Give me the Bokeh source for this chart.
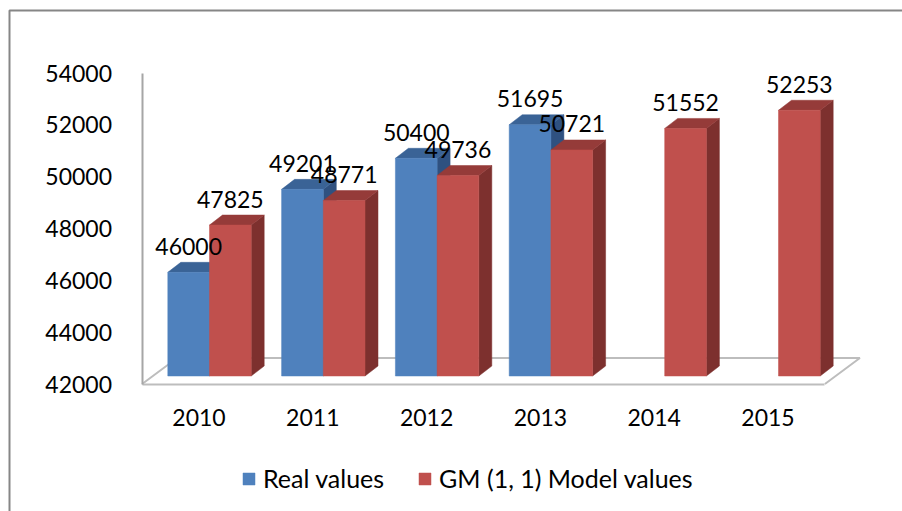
from bokeh.plotting import figure
from bokeh.embed import file_html
from bokeh.resources import INLINE
from bokeh.core.properties import value
from bokeh.models import (ColumnDataSource, FixedTicker, LinearAxis, Range1d, Legend, LegendItem)

# ---- chart data ----
years = ["2010", "2011", "2012", "2013", "2014", "2015"]
real_values = [46000, 49201, 50400, 51695, None, None]
model_values = [47825, 48771, 49736, 50721, 51552, 52253]
y_ticks = [42000, 44000, 46000, 48000, 50000, 52000, 54000]

BLUE = ("#4F81BD", "#3A6396", "#2F5180")
RED = ("#C0504D", "#953B39", "#7D302E")
GRAY = "#BDBDBD"
AXIS_GRAY = "#A6A6A6"
FONT = "Lato"
FS = "23px"

# ---- page geometry (pixels on the page) ----
W, H = 902, 511
PAGE_L, PAGE_T = 0, 0
STEP = 113.8          # px per category
X0 = 198.5            # page x of the first category
Y_BASE = 383.5        # page y of the axis minimum
K = 311.0 / 12000.0   # px per value unit
BAR_W = 41.7 / STEP
PLANE_DX, PLANE_DY = 10.5 / STEP, 8.0 / K   # bars sit behind the axis plane
DEPTH_X, DEPTH_Y = 13.0 / STEP, 10.0 / K


def X(px):
    return (px - X0) / STEP


def Y(py):
    return y_ticks[0] + (Y_BASE - py) / K


p = figure(width=W, height=H, output_backend="svg", toolbar_location=None,
           x_range=Range1d(X(PAGE_L), X(PAGE_L + W)),
           y_range=Range1d(Y(PAGE_T + H), Y(PAGE_T)),
           x_axis_type=None, y_axis_type=None,
           min_border=0, min_border_left=0, min_border_right=0,
           min_border_top=0, min_border_bottom=0)
p.grid.visible = False
p.outline_line_color = None
p.background_fill_color = "white"

# outer chart frame: only the top and left edges show in the page
p.line([X(9), X(9), X(PAGE_L + W)], [Y(PAGE_T + H), Y(10), Y(10)],
       line_color="#868686", line_width=2)

# floor
n = len(years)
left_x, right_x = -0.5, n - 0.5
sx, sy = 35.0 / STEP, 26.0 / K
p.line([left_x, left_x + sx, right_x + sx, right_x],
       [y_ticks[0], y_ticks[0] + sy, y_ticks[0] + sy, y_ticks[0]],
       line_color=GRAY, line_width=2)

# axes
yaxis = LinearAxis(fixed_location=X(141.5), ticker=FixedTicker(ticks=y_ticks),
                   bounds=(y_ticks[0], y_ticks[-1]))
yaxis.axis_line_color = AXIS_GRAY
yaxis.axis_line_width = 2
yaxis.major_tick_line_color = None
yaxis.minor_tick_line_color = None
yaxis.major_label_standoff = 24
yaxis.major_label_text_font = FONT
yaxis.major_label_text_font_size = FS
yaxis.major_label_text_color = "black"
p.add_layout(yaxis, "left")

xaxis = LinearAxis(fixed_location=y_ticks[0], ticker=FixedTicker(ticks=list(range(n))),
                   bounds=(left_x, right_x),
                   major_label_overrides={i: y for i, y in enumerate(years)})
xaxis.axis_line_color = GRAY
xaxis.axis_line_width = 2
xaxis.major_tick_line_color = None
xaxis.minor_tick_line_color = None
xaxis.major_label_standoff = 19
xaxis.major_label_text_font = FONT
xaxis.major_label_text_font_size = FS
xaxis.major_label_text_color = "black"
p.add_layout(xaxis, "below")


def faces(values, side):
    """Front, top and side faces of each bar from its value."""
    front, top, right, cx, cy, labels = [[], []], [[], []], [[], []], [], [], []
    for i, v in enumerate(values):
        if v is None:
            continue
        x0 = i + PLANE_DX + (-BAR_W if side == 0 else 0)
        x1 = x0 + BAR_W
        y0 = y_ticks[0] + PLANE_DY
        y1 = v + PLANE_DY
        front[0].append([x0, x1, x1, x0])
        front[1].append([y0, y0, y1, y1])
        top[0].append([x0, x1, x1 + DEPTH_X, x0 + DEPTH_X])
        top[1].append([y1, y1, y1 + DEPTH_Y, y1 + DEPTH_Y])
        right[0].append([x1, x1 + DEPTH_X, x1 + DEPTH_X, x1])
        right[1].append([y0, y0 + DEPTH_Y, y1 + DEPTH_Y, y1])
        cx.append((x0 + x1) / 2)
        cy.append(y1)
        labels.append(str(v))
    return front, top, right, cx, cy, labels


legend_r = []
label_sets = []
for side, (vals, cols) in enumerate([(real_values, BLUE), (model_values, RED)]):
    front, top, right, cx, cy, labels = faces(vals, side)
    p.patches(right[0], right[1], fill_color=cols[2], line_color=cols[2], line_width=0.5)
    p.patches(top[0], top[1], fill_color=cols[1], line_color=cols[1], line_width=0.5)
    r = p.patches(front[0], front[1], fill_color=cols[0], line_color=cols[0], line_width=0.5)
    legend_r.append(r)
    label_sets.append(ColumnDataSource(dict(x=cx, y=cy, t=labels)))

for src in label_sets:
    p.text("x", "y", text="t", source=src, text_align="center", text_baseline="middle",
           y_offset=-26, text_font=value(FONT), text_font_size=value(FS), text_color="black")

legend = Legend(items=[LegendItem(label="Real values", renderers=[legend_r[0]]),
                       LegendItem(label="GM (1, 1) Model values", renderers=[legend_r[1]])],
                orientation="horizontal", location=(241, 18),
                glyph_width=15, glyph_height=15, label_standoff=7, spacing=33,
                padding=0, margin=0, border_line_color=None, background_fill_alpha=0,
                label_text_font=FONT, label_text_font_size="25px", label_text_color="black",
                label_height=24)
p.add_layout(legend)

open("out.html", "w").write(file_html(p, INLINE))
